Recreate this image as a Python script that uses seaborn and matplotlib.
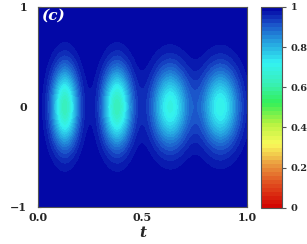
import numpy as np
import matplotlib
matplotlib.use('Agg')
import matplotlib.pyplot as plt
import seaborn as sns
from matplotlib.colors import LinearSegmentedColormap
from matplotlib.ticker import FormatStrFormatter, MultipleLocator

# blobs: centre in t, value at centre, widths in t and x
blob_t = [0.128, 0.378, 0.632, 0.872]
blob_min = [0.62, 0.62, 0.69, 0.70]
blob_wt = [0.046, 0.050, 0.062, 0.064]
blob_wx = [0.27, 0.27, 0.27, 0.27]

x_ticks = [0.0, 0.5, 1.0]
y_ticks = [-1, 0, 1]
cbar_ticks = [0, 0.2, 0.4, 0.6, 0.8, 1]

t = np.linspace(0, 1, 500)
x = np.linspace(-1, 1, 300)
T, X = np.meshgrid(t, x)
Z = np.ones_like(T)
for tc, zm, wt, wx in zip(blob_t, blob_min, blob_wt, blob_wx):
    Z -= (1 - zm) * np.exp(-(T - tc) ** 2 / (2 * wt ** 2) - X ** 2 / (2 * wx ** 2))
Z = np.clip(Z, 0, 1)

sns.set_style("ticks")
plt.rcParams['font.family'] = ['DejaVu Serif']
plt.rcParams['font.weight'] = 'bold'

cmap = LinearSegmentedColormap.from_list('cb', [
    (0.00, (0.82, 0.00, 0.00)),
    (0.12, (0.88, 0.30, 0.12)),
    (0.22, (0.92, 0.62, 0.25)),
    (0.32, (0.98, 0.98, 0.35)),
    (0.42, (0.70, 0.95, 0.25)),
    (0.52, (0.20, 0.94, 0.35)),
    (0.62, (0.22, 0.94, 0.72)),
    (0.72, (0.20, 0.95, 0.95)),
    (0.82, (0.15, 0.65, 0.88)),
    (0.92, (0.10, 0.30, 0.78)),
    (1.00, (0.00, 0.00, 0.64)),
])

fig = plt.figure(figsize=(3.07, 2.44), dpi=100)
ax = fig.add_axes([0.124, 0.152, 0.681, 0.820])
cax = fig.add_axes([0.850, 0.148, 0.068, 0.824])

levels = np.linspace(0, 1, 51)
cf = ax.contourf(T, X, Z, levels=levels, cmap=cmap, vmin=0, vmax=1)

ax.set_xlim(0, 1)
ax.set_ylim(-1, 1)
ax.set_xticks(x_ticks)
ax.set_yticks(y_ticks)
ax.xaxis.set_major_formatter(FormatStrFormatter('%.1f'))
ax.xaxis.set_minor_locator(MultipleLocator(0.1))
ax.yaxis.set_minor_locator(MultipleLocator(0.2))
ax.tick_params(which='both', direction='in', labelsize=8, length=2, color='#333333')
ax.tick_params(axis='y', pad=8)
for s in ax.spines.values():
    s.set_color('#555555')
ax.set_xlabel('t', fontsize=11, fontstyle='italic', fontweight='bold', labelpad=2)
ax.text(0.015, 0.99, '(c)', transform=ax.transAxes, color='white',
        fontsize=11, fontstyle='italic', fontweight='bold', va='top', ha='left')

cb = fig.colorbar(cf, cax=cax, ticks=cbar_ticks)
cb.ax.yaxis.set_major_formatter(FormatStrFormatter('%g'))
cb.ax.tick_params(labelsize=7, length=3, width=0.8, color='#555555')
cb.outline.set_edgecolor('#555555')

fig.savefig('out.png', dpi=100)
